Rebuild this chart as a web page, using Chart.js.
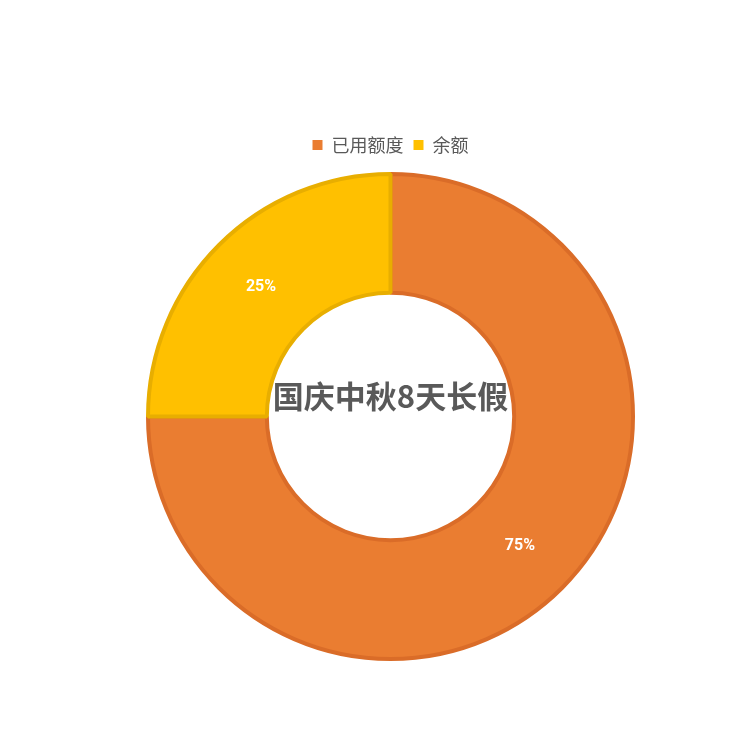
<!DOCTYPE html>
<html>
<head>
<meta charset="utf-8">
<script src="https://cdn.jsdelivr.net/npm/chart.js@4"></script>
<style>
  html, body { margin: 0; padding: 0; background: #fff; }
  #wrap { width: 750px; height: 750px; }
</style>
</head>
<body>
<div id="wrap"><canvas id="chart" width="750" height="750"></canvas></div>
<script>
// Data
const categories = ['已用额度', '余额'];
const values = [75, 25];
const fills = ['#EA7D31', '#FFC000'];
const borders = ['#DA6C28', '#E8AE00'];
const centerTitle = '国庆中秋8天长假';

const CJK = '"Noto Sans CJK SC", "Noto Sans", sans-serif';

// percent labels on each slice
const sliceLabels = {
    id: 'sliceLabels',
    afterDatasetsDraw(chart) {
        const ctx = chart.ctx;
        const meta = chart.getDatasetMeta(0);
        const total = values.reduce((a, b) => a + b, 0);
        ctx.save();
        ctx.fillStyle = '#ffffff';
        ctx.font = 'bold 16px Roboto, sans-serif';
        ctx.textAlign = 'center';
        ctx.textBaseline = 'middle';
        meta.data.forEach((arc, i) => {
            const p = arc.tooltipPosition();
            ctx.fillText(Math.round(values[i] / total * 100) + '%', p.x, p.y);
        });
        ctx.restore();
    }
};

// big title in the hole
const centerText = {
    id: 'centerText',
    afterDraw(chart) {
        const ctx = chart.ctx;
        const arc = chart.getDatasetMeta(0).data[0];
        ctx.save();
        ctx.fillStyle = '#595959';
        ctx.font = 'bold 31px ' + CJK;
        ctx.textAlign = 'center';
        ctx.textBaseline = 'middle';
        ctx.fillText(centerTitle, arc.x, arc.y - 20);
        ctx.restore();
    }
};

new Chart(document.getElementById('chart').getContext('2d'), {
    type: 'doughnut',
    data: {
        labels: categories,
        datasets: [{
            data: values,
            backgroundColor: fills,
            borderColor: borders,
            borderWidth: 4,
            hoverBorderWidth: 4
        }]
    },
    options: {
        responsive: false,
        animation: false,
        cutout: '51%',
        layout: { padding: { top: 126, bottom: 81, left: 146, right: 115 } },
        plugins: {
            legend: {
                position: 'top',
                labels: {
                    boxWidth: 10,
                    boxHeight: 10,
                    padding: 10,
                    color: '#595959',
                    font: { size: 18, family: CJK },
                    generateLabels(chart) {
                        const items = Chart.overrides.doughnut.plugins.legend.labels.generateLabels(chart);
                        return items.map(it => Object.assign(it, { strokeStyle: it.fillStyle, lineWidth: 0 }));
                    }
                }
            },
            tooltip: { enabled: false }
        }
    },
    plugins: [sliceLabels, centerText]
});
</script>
</body>
</html>
